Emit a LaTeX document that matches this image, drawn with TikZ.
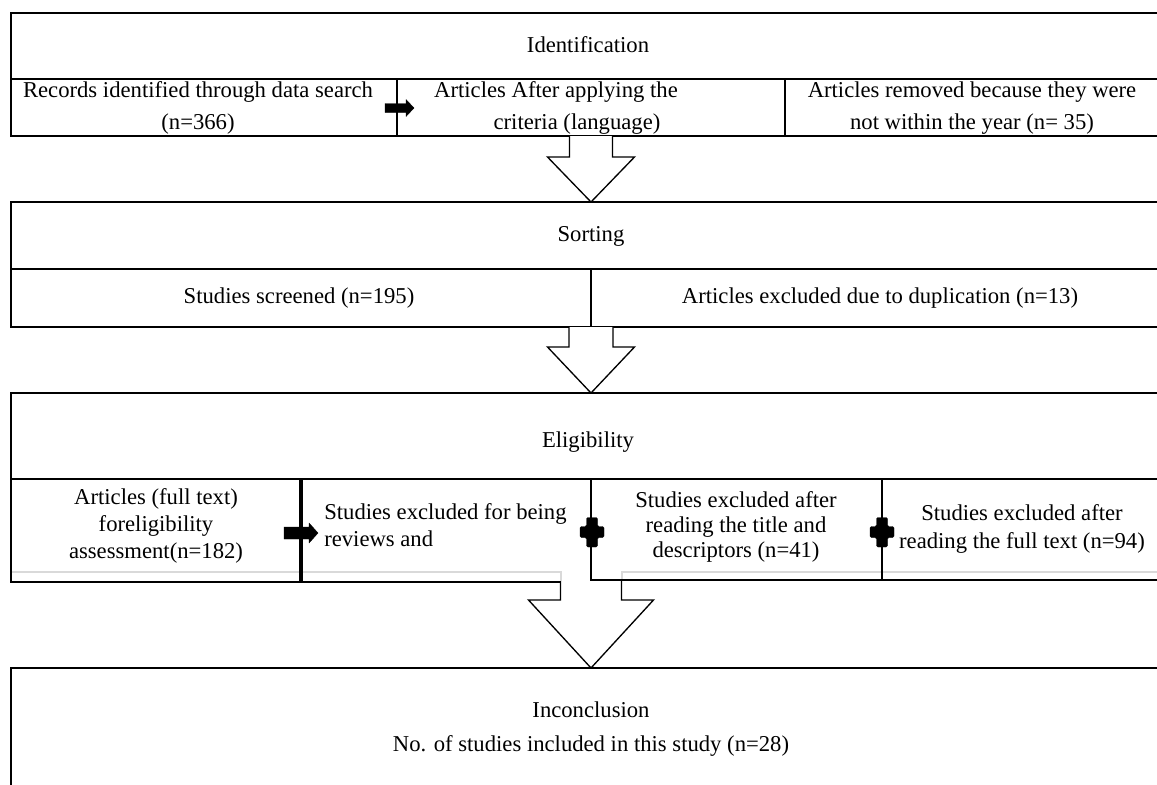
\documentclass[tikz,border=0pt]{standalone}
\usepackage{fontspec}
\setmainfont{Liberation Serif}

\begin{document}
\begin{tikzpicture}[
            x=0.75pt, y=-0.75pt,
            frame/.style={line width=1.3pt},
            heavy frame/.style={line width=2.3pt},
            ghost/.style={gray!30, line width=0.8pt},
            stage arrow/.style={line width=1pt, fill=white, line join=miter},
            tip/.style={fill=black, draw=black, line width=0.3pt, line join=round},
            label/.style={font=\fontsize{17}{20.5}\selectfont, align=center, inner sep=0pt},
            wide label/.style={label, font=\fontsize{17}{24.5}\selectfont}
            ]
            \useasboundingbox (0,0) rectangle (1157,785);

            % identification
            \draw[frame] (1157,13) -- (11,13) -- (11,136) -- (1157,136);
            \draw[frame] (11,79) -- (1157,79);
            \draw[frame] (397,79) -- (397,136);
            \draw[frame] (785,79) -- (785,136);

            \node[label] (ident) at (588,45) {Identification};
            \node[wide label] (records) at (198,108) {Records identified through data search\\(n=366)};
            \node[wide label] (language) at (577,108) {Articles After applying the\rule{31.5pt}{0pt}\\criteria (language)};
            \node[wide label] (removed) at (972,108) {Articles removed because they were\\not within the year (n= 35)};

            % sorting
            \draw[frame] (1157,202) -- (11,202) -- (11,327) -- (1157,327);
            \draw[frame] (11,269) -- (1157,269);
            \draw[frame] (591,269) -- (591,327);

            \node[label] (sorting) at (591,236) {Sorting};
            \node[label] (screened) at (299,298) {Studies screened (n=195)};
            \node[label] (duplicates) at (880,298) {Articles excluded due to duplication (n=13)};

            % eligibility
            \draw[ghost] (11,572) -- (561,572) -- (561,582);
            \draw[ghost] (1157,572) -- (622,572) -- (622,580);
            \draw[frame] (1157,393) -- (11,393) -- (11,582) -- (591,582);
            \draw[frame] (591,580) -- (1157,580);
            \draw[frame] (11,479) -- (1157,479);
            \draw[heavy frame] (301,479) -- (301,582);
            \draw[frame] (591,479) -- (591,582);
            \draw[frame] (882,479) -- (882,580);

            \node[label] (eligibility) at (588,442) {Eligibility};
            \node[label] (fulltext) at (156,526) {Articles (full text)\\foreligibility\\assessment(n=182)};
            \node[label, align=left, anchor=west] (reviews) at (324,525) {Studies excluded for being\\reviews and};
            \node[label, font=\fontsize{17}{19}\selectfont] (titles) at (736,527) {Studies excluded after\\reading the title and\\descriptors (n=41)};
            \node[label] (fullread) at (1022,529) {Studies excluded after\\reading the full text (n=94)};

            % inconclusion
            \draw[frame] (1157,668) -- (11,668) -- (11,785);

            \node[label] (inconclusion) at (591,710) {Inconclusion};
            \node[label] (included) at (591,746) {No. of studies included in this study (n=28)};

            % big arrows between the stages
            \foreach \top/\neck/\bottom/\shaft/\head in {136/157/202/21.5/43.5, 327/347/393/22/43.5, 581/600/668/30.5/62.5}
                \draw[stage arrow] ({591-\shaft},\top) -- ({591-\shaft},\neck) -- ({591-\head},\neck)
                    -- (591,\bottom) -- ({591+\head},\neck) -- ({591+\shaft},\neck) -- ({591+\shaft},\top);

            % small arrows
            \draw[tip] (385,103.5) -- (406,103.5) -- (406,99.5) -- (414,108) -- (406,116.5) -- (406,112.5) -- (385,112.5) -- cycle;
            \draw[tip] (284,527) -- (309,527) -- (309,523) -- (318,533) -- (309,543) -- (309,539) -- (284,539) -- cycle;

            % crosses
            \foreach \cx in {592,882}
                \draw[tip, rounded corners=1pt] ({\cx-5.5},517.5) -- ({\cx+5.5},517.5) -- ({\cx+5.5},526.5) -- ({\cx+12},526.5)
                    -- ({\cx+12},537.5) -- ({\cx+5.5},537.5) -- ({\cx+5.5},547) -- ({\cx-5.5},547) -- ({\cx-5.5},537.5)
                    -- ({\cx-12},537.5) -- ({\cx-12},526.5) -- ({\cx-5.5},526.5) -- cycle;

\end{tikzpicture}
\end{document}
